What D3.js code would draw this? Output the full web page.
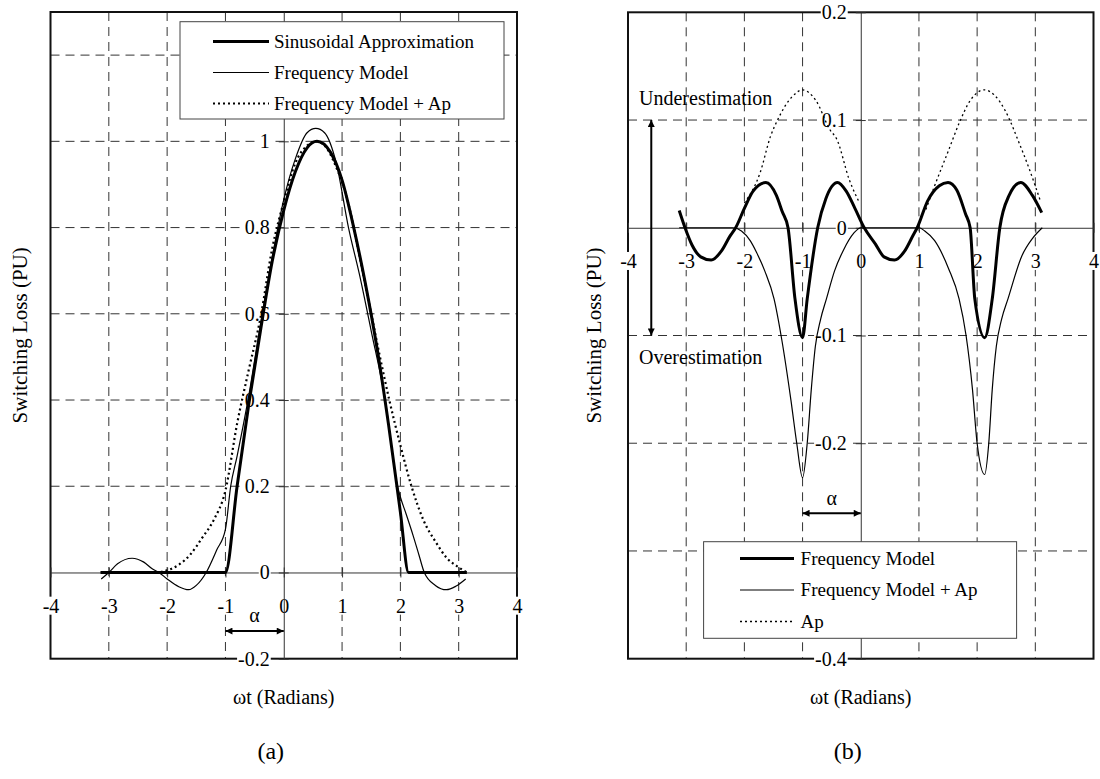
<!DOCTYPE html>
<html>
<head>
<meta charset="utf-8">
<script src="https://cdnjs.cloudflare.com/ajax/libs/d3/7.8.5/d3.min.js"></script>
<style>
body { margin: 0; background: #fff; }
text { font-family: "Liberation Serif", "Times New Roman", serif; font-size: 20px; fill: #000; }
</style>
</head>
<body>
<div id="chart"></div>
<script>
// ---- data ----
var xTicks = [-4, -3, -2, -1, 0, 1, 2, 3, 4];
var yTicksA = [-0.2, 0, 0.2, 0.4, 0.6, 0.8, 1, 1.2];
var yTicksB = [-0.4, -0.3, -0.2, -0.1, 0, 0.1, 0.2];
// labels hidden under the legend in the original are left blank
var yLabelsA = ["-0.2", "0", "0.2", "0.4", "0.6", "0.8", "1", ""];
var yLabelsB = ["-0.4", "", "-0.2", "-0.1", "0", "0.1", "0.2"];

var namesA = ["Sinusoidal Approximation", "Frequency Model", "Frequency Model + Ap"];
var namesB = ["Frequency Model", "Frequency Model + Ap", "Ap"];

// (a) switching loss, PU
var sinApprox = [[-3.14,0],[-1.0,0],[-0.8,0.2],[-0.6,0.39],[-0.4,0.56],[-0.2,0.72],[0,0.84],[0.2,0.93],[0.4,0.985],
    [0.57,1.0],[0.8,0.975],[1.0,0.91],[1.2,0.8],[1.4,0.67],[1.6,0.52],[1.8,0.34],[2.0,0.14],[2.14,0],[3.14,0]];
var freqModelA = [[-3.13,-0.015],[-3.0,0],[-2.85,0.02],[-2.6,0.033],[-2.4,0.024],[-2.25,0.008],[-2.14,0],[-2.0,-0.015],
    [-1.8,-0.033],[-1.63,-0.04],[-1.5,-0.03],[-1.33,0],[-1.15,0.052],[-1.0,0.1],[-0.91,0.2],[-0.8,0.27],[-0.6,0.41],
    [-0.4,0.575],[-0.2,0.73],[0,0.865],[0.2,0.96],[0.4,1.02],[0.55,1.03],[0.7,1.02],[0.9,0.95],[1.11,0.8],[1.3,0.69],
    [1.5,0.56],[1.74,0.4],[1.95,0.2],[2.0,0.175],[2.1,0.135],[2.22,0.085],[2.32,0.04],[2.41,0],[2.6,-0.03],
    [2.79,-0.04],[2.95,-0.032],[3.12,-0.015]];
var freqApA = [[-3.14,0],[-2.6,0],[-2.2,0],[-2.0,0.005],[-1.8,0.018],[-1.6,0.042],[-1.4,0.08],[-1.2,0.122],[-1.0,0.19],
    [-0.8,0.345],[-0.6,0.47],[-0.4,0.59],[-0.2,0.75],[0,0.86],[0.2,0.95],[0.4,0.99],[0.55,1.0],[0.7,0.99],[0.9,0.94],
    [1.1,0.86],[1.2,0.8],[1.32,0.72],[1.41,0.66],[1.5,0.6],[1.65,0.5],[1.81,0.4],[2.0,0.295],[2.19,0.2],[2.4,0.12],
    [2.6,0.072],[2.8,0.033],[3.0,0.012],[3.14,0]];

// (b) error curves, PU
var freqModelB = [[-3.12,0.016],[-3.02,0],[-2.9,-0.016],[-2.75,-0.027],[-2.57,-0.03],[-2.4,-0.022],[-2.25,-0.008],
    [-2.15,0],[-2.0,0.018],[-1.85,0.034],[-1.63,0.042],[-1.45,0.03],[-1.35,0.015],[-1.25,0],[-1.13,-0.066],
    [-1.0,-0.102],[-0.92,-0.066],[-0.74,0],[-0.6,0.027],[-0.4,0.042],[-0.25,0.034],[-0.1,0.018],[0.06,0],
    [0.25,-0.015],[0.4,-0.027],[0.58,-0.03],[0.75,-0.022],[0.9,-0.007],[0.97,0],[1.15,0.025],[1.35,0.039],
    [1.5,0.042],[1.65,0.035],[1.8,0.013],[1.88,0],[1.96,-0.066],[2.13,-0.102],[2.26,-0.066],[2.39,0],[2.55,0.03],
    [2.75,0.042],[2.95,0.03],[3.11,0.014]];
var freqApB = [[-3.12,0],[-2.6,0],[-2.2,0],[-2.05,-0.003],[-1.9,-0.012],[-1.79,-0.023],[-1.65,-0.04],[-1.49,-0.066],
    [-1.36,-0.103],[-1.2,-0.16],[-1.1,-0.2],[-1.0,-0.232],[-0.92,-0.2],[-0.85,-0.15],[-0.78,-0.11],[-0.69,-0.085],
    [-0.59,-0.066],[-0.45,-0.04],[-0.3,-0.021],[-0.12,-0.005],[0,0],[1.0,0],[1.1,-0.003],[1.27,-0.012],[1.51,-0.038],
    [1.69,-0.066],[1.81,-0.1],[1.92,-0.15],[2.0,-0.2],[2.13,-0.229],[2.2,-0.2],[2.26,-0.15],[2.33,-0.11],
    [2.42,-0.085],[2.53,-0.066],[2.77,-0.026],[2.95,-0.01],[3.12,0]];
var apB = [[-2.0,0.023],[-1.73,0.051],[-1.55,0.085],[-1.43,0.1],[-1.19,0.121],[-1.0,0.128],[-0.77,0.118],[-0.53,0.091],
    [-0.41,0.082],[-0.2,0.045],[-0.02,0.023],[0.5,null],[1.12,0.017],[1.27,0.039],[1.51,0.072],[1.69,0.097],
    [1.88,0.118],[2.12,0.128],[2.3,0.123],[2.48,0.109],[2.72,0.079],[2.9,0.054],[3.08,0.026]];

// ---- layout ----
var width = 1100, height = 779;

var panels = [
    {
        caption: "(a)",
        left: 50.5, right: 517, top: 12, bottom: 658.7,
        yDomain: [-0.2, 1.3], yTicks: yTicksA, yLabels: yLabelsA,
        series: [
            {data: sinApprox, width: 3, dash: null},
            {data: freqModelA, width: 1.2, dash: null},
            {data: freqApA, width: 2.2, dash: "2,3"}
        ],
        names: namesA,
        legend: {x: 180, y: 21.7, w: 324, h: 97.3, row0: 41.5, gap: 31, x1: 213, x2: 269, tx: 274},
        alpha: {x0: -1, x1: 0, y: -0.136, ty: -0.115},
        titleX: 27
    },
    {
        caption: "(b)",
        left: 628, right: 1093.5, top: 12.3, bottom: 658.7,
        yDomain: [-0.4, 0.2], yTicks: yTicksB, yLabels: yLabelsB,
        series: [
            {data: freqModelB, width: 3, dash: null},
            {data: freqApB, width: 1.2, dash: null},
            {data: apB, width: 1.3, dash: "2,3"}
        ],
        names: namesB,
        legend: {x: 703.6, y: 541.7, w: 313, h: 96.6, row0: 558.5, gap: 31.5, x1: 740, x2: 794, tx: 800.6},
        alpha: {x0: -1, x1: 0, y: -0.265, ty: -0.257},
        titleX: 601,
        notes: {x: -3.81, arrowX: -3.6, up: 0.1, down: -0.1, underY: 0.114, overY: -0.126}
    }
];

var svg = d3.select("#chart")
    .append("svg")
    .attr("width", width)
    .attr("height", height);

svg.append("rect").attr("width", width).attr("height", height).attr("fill", "#fff");

var defs = svg.append("defs");
defs.append("marker")
    .attr("id", "head")
    .attr("viewBox", "0 0 10 10")
    .attr("refX", 10).attr("refY", 5)
    .attr("markerUnits", "userSpaceOnUse")
    .attr("markerWidth", 9).attr("markerHeight", 7)
    .attr("orient", "auto-start-reverse")
    .append("path")
    .attr("d", "M0,0L10,5L0,10Z")
    .attr("fill", "#000");

panels.forEach(function(p) {
    var x = d3.scaleLinear().domain([-4, 4]).range([p.left, p.right]);
    var y = d3.scaleLinear().domain(p.yDomain).range([p.bottom, p.top]);
    var g = svg.append("g");

    // dashed grid
    g.selectAll(".vgrid")
        .data(xTicks.filter(function(d) { return d !== 0 && d > -4 && d < 4; }))
        .enter().append("line")
        .attr("x1", function(d) { return x(d); })
        .attr("x2", function(d) { return x(d); })
        .attr("y1", p.top).attr("y2", p.bottom)
        .attr("stroke", "#333").attr("stroke-dasharray", "9,6");

    g.selectAll(".hgrid")
        .data(p.yTicks.filter(function(d) { return d !== 0 && d > p.yDomain[0] && d < p.yDomain[1]; }))
        .enter().append("line")
        .attr("y1", function(d) { return y(d); })
        .attr("y2", function(d) { return y(d); })
        .attr("x1", p.left).attr("x2", p.right)
        .attr("stroke", "#333").attr("stroke-dasharray", "9,6");

    g.append("rect")
        .attr("x", p.left).attr("y", p.top)
        .attr("width", p.right - p.left).attr("height", p.bottom - p.top)
        .attr("fill", "none").attr("stroke", "#111").attr("stroke-width", 2);

    // axes through the origin
    var gx = g.append("g")
        .attr("transform", "translate(0," + y(0) + ")")
        .call(d3.axisBottom(x).tickValues(xTicks).tickSize(5).tickSizeOuter(0).tickPadding(21).tickFormat(String));
    var gy = g.append("g")
        .attr("transform", "translate(" + x(0) + ",0)")
        .call(d3.axisLeft(y).tickValues(p.yTicks).tickSize(5).tickSizeOuter(0).tickPadding(9)
            .tickFormat(function(d, i) { return p.yLabels[i]; }));

    [gx, gy].forEach(function(a) {
        a.attr("font-size", null).attr("font-family", null);
        a.select(".domain").attr("stroke", "#333");
        a.selectAll(".tick line").attr("stroke", "#333");
        a.selectAll(".tick text").each(function() {
            if (!this.textContent) return;
            var b = this.getBBox();
            d3.select(this.parentNode).insert("rect", "text")
                .attr("x", b.x - 1).attr("y", b.y + 2)
                .attr("width", b.width + 2).attr("height", b.height - 4)
                .attr("fill", "#fff");
        });
    });
    gx.selectAll(".tick line").attr("y1", -5);
    gy.selectAll(".tick line").attr("x1", 5);

    // curves
    var line = d3.line()
        .defined(function(d) { return d[1] !== null; })
        .x(function(d) { return x(d[0]); })
        .y(function(d) { return y(d[1]); })
        .curve(d3.curveMonotoneX);

    p.series.forEach(function(s) {
        g.append("path")
            .datum(s.data)
            .attr("d", line)
            .attr("fill", "none")
            .attr("stroke", "#000")
            .attr("stroke-width", s.width)
            .attr("stroke-dasharray", s.dash)
            .attr("stroke-linejoin", "round");
    });

    // alpha marker
    g.append("line")
        .attr("x1", x(p.alpha.x0)).attr("x2", x(p.alpha.x1))
        .attr("y1", y(p.alpha.y)).attr("y2", y(p.alpha.y))
        .attr("stroke", "#000").attr("stroke-width", 2)
        .attr("marker-start", "url(#head)").attr("marker-end", "url(#head)");
    g.append("text")
        .attr("x", x((p.alpha.x0 + p.alpha.x1) / 2)).attr("y", y(p.alpha.ty))
        .attr("text-anchor", "middle")
        .text("\u03b1");

    if (p.notes) {
        g.append("line")
            .attr("x1", x(p.notes.arrowX)).attr("x2", x(p.notes.arrowX))
            .attr("y1", y(p.notes.up)).attr("y2", y(p.notes.down))
            .attr("stroke", "#000").attr("stroke-width", 2)
            .attr("marker-start", "url(#head)").attr("marker-end", "url(#head)");
        g.append("text").attr("x", x(p.notes.x)).attr("y", y(p.notes.underY)).text("Underestimation");
        g.append("text").attr("x", x(p.notes.x)).attr("y", y(p.notes.overY)).text("Overestimation");
    }

    // legend
    var L = p.legend;
    var lg = g.append("g");
    lg.append("rect")
        .attr("x", L.x).attr("y", L.y).attr("width", L.w).attr("height", L.h)
        .attr("fill", "#fff").attr("stroke", "#444");
    p.series.forEach(function(s, i) {
        var ry = L.row0 + i * L.gap;
        lg.append("line")
            .attr("x1", L.x1).attr("x2", L.x2).attr("y1", ry).attr("y2", ry)
            .attr("stroke", "#000").attr("stroke-width", s.width)
            .attr("stroke-dasharray", s.dash);
        lg.append("text").attr("x", L.tx).attr("y", ry + 6)
            .style("font-size", "19px")
            .text(p.names[i]);
    });

    // titles
    var cx = (p.left + p.right) / 2;
    g.append("text")
        .attr("x", cx).attr("y", 704)
        .attr("text-anchor", "middle")
        .text("\u03c9t (Radians)");
    g.append("text")
        .attr("transform", "translate(" + p.titleX + "," + ((p.top + p.bottom) / 2) + ") rotate(-90)")
        .attr("text-anchor", "middle")
        .style("font-size", "21px")
        .text("Switching Loss (PU)");
    g.append("text")
        .attr("x", cx - 13).attr("y", 759)
        .attr("text-anchor", "middle")
        .style("font-size", "24px")
        .text(p.caption);
});
</script>
</body>
</html>
